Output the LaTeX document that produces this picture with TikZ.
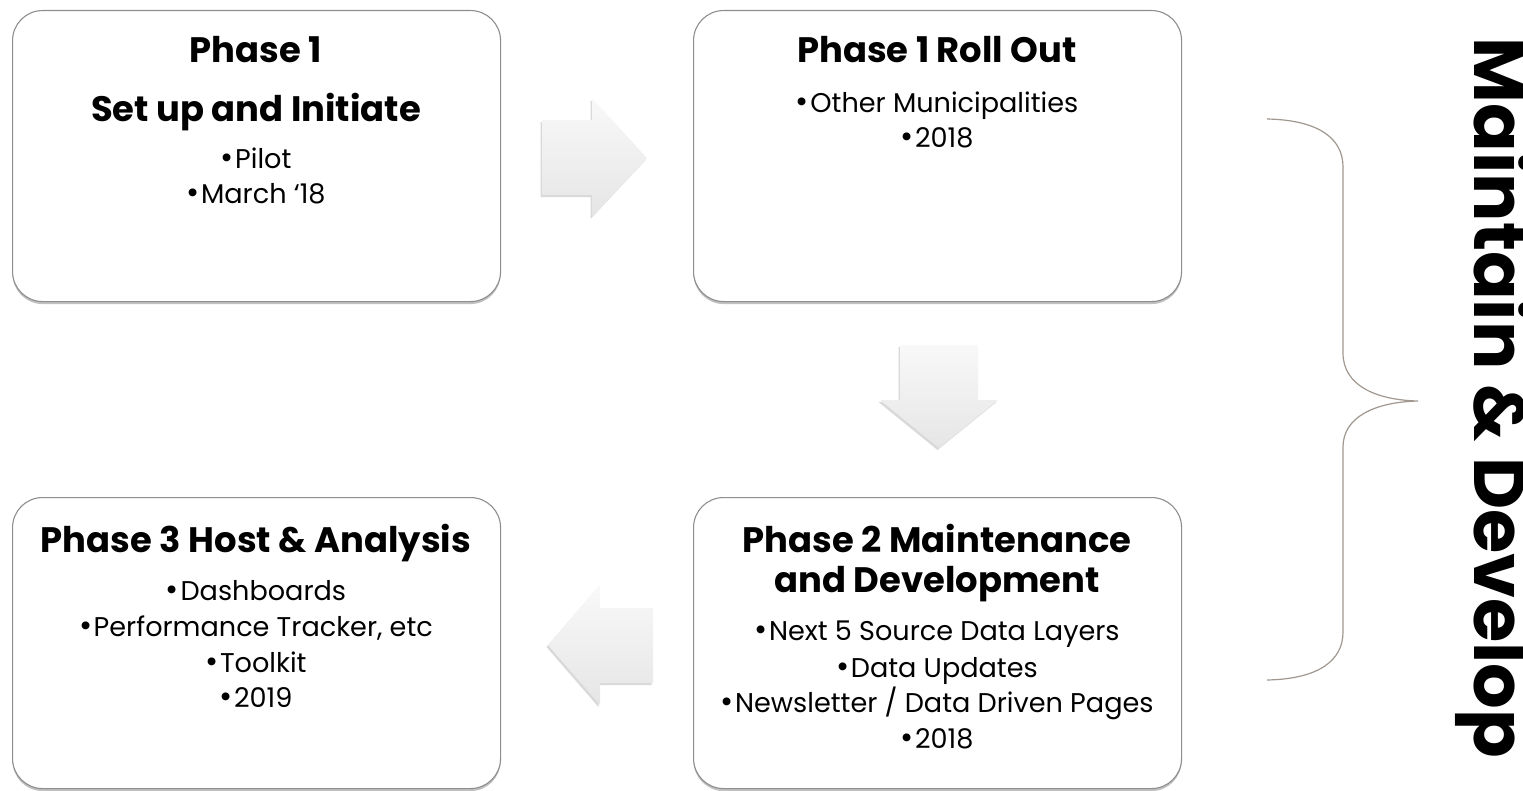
\documentclass[tikz,border=0pt]{standalone}
\usepackage{fontspec}
\setmainfont{Poppins}
\usetikzlibrary{shadows}
\definecolor{boxline}{HTML}{8E8E8E}
\definecolor{bracecol}{HTML}{A0978F}
\newcommand{\bl}{{\fontsize{32}{32}\selectfont •}\hspace{1.5bp}}
\tikzset{
  phasebox/.style={draw=boxline, line width=1.1bp, fill=white, rounded corners=30bp,
    anchor=north west, minimum width=488bp, minimum height=291bp, inner sep=0pt,
    drop shadow={shadow xshift=0bp, shadow yshift=-2.5bp, opacity=0.35, fill=black!70}},
  ttl/.style={anchor=base, font=\fontsize{35.5}{40}\selectfont\bfseries, inner sep=0pt},
  bul/.style={anchor=base, font=\fontsize{27.2}{30}\selectfont, inner sep=0pt},
  blockarrow/.style={top color=gray!5, bottom color=gray!20, draw=none,
    drop shadow={shadow xshift=-1.5bp, shadow yshift=-2bp, opacity=0.25, fill=black!60}},
  bracestyle/.style={draw=bracecol, line width=1.2bp},
  sidetext/.style={anchor=base, rotate=-90, font=\fontsize{72}{76}\selectfont\bfseries, inner sep=0pt}
}
\begin{document}
\begin{tikzpicture}[x=1bp, y=-1bp]
\useasboundingbox (0,0) rectangle (1523,790);
% boxes
\node[phasebox] (b1) at (12,10) {};
\node[phasebox] (b2) at (693,10) {};
\node[phasebox] (b3) at (12,497) {};
\node[phasebox] (b4) at (693,497) {};
% box 1 text
\node[ttl] (b1t1) at (256,63) {Phase 1};
\node[ttl] (b1t2) at (256,121) {Set up and Initiate};
\node[bul] (b1l1) at (256,168) {\bl Pilot};
\node[bul] (b1l2) at (256,203) {\bl March ‘18};
% box 2 text
\node[ttl] (b2t1) at (937,63) {Phase 1 Roll Out};
\node[bul] (b2l1) at (937,112) {\bl Other Municipalities};
\node[bul] (b2l2) at (937,147) {\bl 2018};
% box 3 text
\node[ttl] (b3t1) at (256,552) {Phase 3 Host \& Analysis};
\node[bul] (b3l1) at (256,600) {\bl Dashboards};
\node[bul] (b3l2) at (256,636) {\bl Performance Tracker, etc};
\node[bul] (b3l3) at (256,672) {\bl Toolkit};
\node[bul] (b3l4) at (256,707) {\bl 2019};
% box 4 text
\node[ttl] (b4t1) at (937,552) {Phase 2 Maintenance};
\node[ttl] (b4t2) at (937,592) {and Development};
\node[bul] (b4l1) at (937,640) {\bl Next 5 Source Data Layers};
\node[bul] (b4l2) at (937,677) {\bl Data Updates};
\node[bul] (b4l3) at (937,712) {\bl Newsletter / Data Driven Pages};
\node[bul] (b4l4) at (937,748) {\bl 2018};
% arrows
\path[blockarrow] (542,120) -- (592,120) -- (592,98) -- (647,158) -- (592,217) -- (592,195) -- (542,195) -- cycle;
\path[blockarrow] (900,345) -- (978,345) -- (978,400) -- (998,400) -- (939,448) -- (880,400) -- (900,400) -- cycle;
\path[blockarrow] (653,608) -- (600,608) -- (600,585) -- (548,645) -- (600,705) -- (600,683) -- (653,683) -- cycle;
% brace
\coordinate (brtop) at (1267,119);
\coordinate (brtip) at (1418,401);
\coordinate (brbot) at (1267,680);
\draw[bracestyle] (brtop) .. controls (1318,120) and (1343,138) .. (1343,167) -- (1343,353)
  .. controls (1343,385) and (1375,400) .. (brtip)
  .. controls (1375,402) and (1343,417) .. (1343,447) -- (1343,632)
  .. controls (1343,661) and (1318,679) .. (brbot);
% side text
\node[sidetext] (side) at (1474,398) {Maintain \& Develop};
\end{tikzpicture}
\end{document}
